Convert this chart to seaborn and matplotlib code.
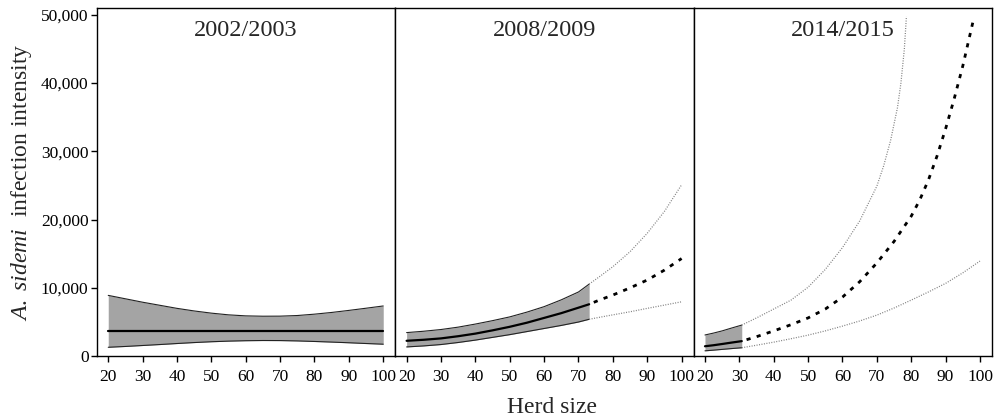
import numpy as np
import pandas as pd
import matplotlib
matplotlib.use("Agg")
import matplotlib.pyplot as plt
from matplotlib.ticker import FuncFormatter
import seaborn as sns

# values (herd size vs predicted A. sidemi intensity)
seasons = ["2002/2003", "2008/2009", "2014/2015"]

# 2002/2003: fitted over the whole range
herd_0203 = [20, 25, 30, 35, 40, 45, 50, 55, 60, 65, 70, 75, 80, 85, 90, 95, 100]
mean_0203 = [3650] * 17
upper_0203 = [8900, 8400, 7900, 7450, 7000, 6620, 6300, 6050, 5900, 5850, 5860,
              5950, 6150, 6400, 6700, 7020, 7350]
lower_0203 = [1300, 1420, 1560, 1700, 1850, 1990, 2110, 2200, 2260, 2290, 2280,
              2230, 2150, 2060, 1960, 1850, 1750]

# 2008/2009: fitted up to ~73, extrapolated beyond
herd_0809 = [20, 25, 30, 35, 40, 45, 50, 55, 60, 65, 70, 73.1]
mean_0809 = [2250, 2400, 2600, 2920, 3300, 3780, 4300, 4900, 5600, 6300, 7100, 7600]
upper_0809 = [3450, 3650, 3900, 4250, 4700, 5200, 5750, 6450, 7250, 8250, 9400, 10550]
lower_0809 = [1350, 1500, 1700, 2000, 2350, 2750, 3150, 3600, 4050, 4500, 5000, 5400]
herd_0809_ext = [73.1, 76, 80, 85, 90, 95, 100]
mean_0809_ext = [7600, 8200, 8950, 10000, 11150, 12600, 14300]
upper_0809_ext = [10550, 11600, 13100, 15300, 18000, 21200, 25100]
lower_0809_ext = [5400, 5680, 6050, 6500, 7000, 7480, 7960]

# 2014/2015: fitted up to ~31, extrapolated beyond
herd_1415 = [20, 22.5, 25, 27.5, 30.7]
mean_1415 = [1450, 1600, 1780, 1970, 2200]
upper_1415 = [3100, 3380, 3700, 4080, 4550]
lower_1415 = [780, 880, 990, 1100, 1230]
herd_1415_mean_ext = [30.7, 35, 40, 45, 50, 55, 60, 65, 70, 75, 80, 82.5, 85, 87.5,
                      90, 92.5, 95, 98.2]
mean_1415_ext = [2200, 2850, 3700, 4600, 5600, 6900, 8650, 10900, 13650, 16800,
                 20500, 22900, 25800, 29300, 33300, 37700, 42500, 49500]
herd_1415_up_ext = [30.7, 35, 40, 45, 50, 55, 60, 65, 70, 72, 74, 76, 77, 78, 78.6]
upper_1415_ext = [4550, 5600, 6900, 8200, 10100, 12700, 15900, 19800, 24900, 27900,
                  31600, 36400, 40000, 45000, 49750]
herd_1415_lo_ext = [30.7, 35, 40, 45, 50, 55, 60, 65, 70, 75, 80, 85, 90, 95, 100]
lower_1415_ext = [1230, 1600, 2050, 2550, 3080, 3700, 4400, 5150, 6010, 7050, 8210,
                  9400, 10660, 12200, 13930]

xticks = [20, 30, 40, 50, 60, 70, 80, 90, 100]
yticks = [0, 10000, 20000, 30000, 40000, 50000]

sns.set_style("ticks")
plt.rcParams["font.family"] = ["Liberation Serif", "DejaVu Serif"]
plt.rcParams["mathtext.fontset"] = "custom"
plt.rcParams["mathtext.rm"] = "Liberation Serif"
plt.rcParams["mathtext.it"] = "Liberation Serif:italic"

fig, axes = plt.subplots(1, 3, figsize=(9.99, 4.19), dpi=100, sharey=True)
fig.subplots_adjust(left=0.097, right=0.993, bottom=0.150, top=0.981, wspace=0)

band_col = "#a4a4a4"


def draw_fit(ax, x, m, lo, up):
    ax.fill_between(x, lo, up, color=band_col, linewidth=0)
    sns.lineplot(x=x, y=up, ax=ax, color="#222222", linewidth=0.8)
    sns.lineplot(x=x, y=lo, ax=ax, color="#222222", linewidth=0.8)
    sns.lineplot(x=x, y=m, ax=ax, color="black", linewidth=1.6)


def draw_ext(ax, xm, m, xu, up, xl, lo):
    sns.lineplot(x=xu, y=up, ax=ax, color="#808080", linewidth=0.9, linestyle=(0, (0.8, 1.2)))
    sns.lineplot(x=xl, y=lo, ax=ax, color="#808080", linewidth=0.9, linestyle=(0, (0.8, 1.2)))
    sns.lineplot(x=xm, y=m, ax=ax, color="black", linewidth=2.0, linestyle=(2, (1.5, 2.3)))


draw_fit(axes[0], herd_0203, mean_0203, lower_0203, upper_0203)
draw_fit(axes[1], herd_0809, mean_0809, lower_0809, upper_0809)
draw_ext(axes[1], herd_0809_ext, mean_0809_ext, herd_0809_ext, upper_0809_ext,
         herd_0809_ext, lower_0809_ext)
draw_fit(axes[2], herd_1415, mean_1415, lower_1415, upper_1415)
draw_ext(axes[2], herd_1415_mean_ext, mean_1415_ext, herd_1415_up_ext, upper_1415_ext,
         herd_1415_lo_ext, lower_1415_ext)

for i, ax in enumerate(axes):
    ax.set_xlim(16.7, 103.5)
    ax.set_ylim(0, 51000)
    ax.set_xticks(xticks)
    ax.set_yticks(yticks)
    ax.set_xlabel("")
    ax.set_ylabel("")
    for s in ax.spines.values():
        s.set_visible(True)
        s.set_color("black")
        s.set_linewidth(1.0)
    ax.tick_params(axis="x", direction="out", length=4, width=1, labelsize=12.5, pad=5,
                   colors="black")
    ax.text(0.5, 0.934, seasons[i], transform=ax.transAxes, ha="center", va="center",
            fontsize=17.5)
    if i == 0:
        ax.tick_params(axis="y", direction="out", length=4, width=1, labelsize=12.5,
                       pad=2, colors="black")
        ax.yaxis.set_major_formatter(FuncFormatter(lambda v, p: f"{int(v):,}"))
    else:
        ax.tick_params(axis="y", left=False, labelleft=False)

axes[0].set_ylabel(r"$\it{A.\ sidemi}$  infection intensity", fontsize=17, labelpad=5)
fig.text(0.553, 0.028, "Herd size", ha="center", va="center", fontsize=17)

fig.savefig("out.png", dpi=100)
